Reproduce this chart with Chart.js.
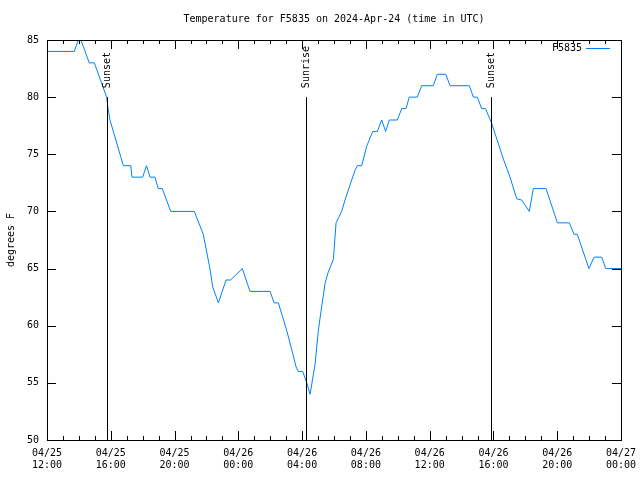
<!DOCTYPE html>
<html>
<head>
<meta charset="utf-8">
<script src="https://cdn.jsdelivr.net/npm/chart.js@4"></script>
<style>
  html, body { margin: 0; padding: 0; background: #fff; }
  #wrap { width: 640px; height: 480px; }
</style>
</head>
<body>
<div id="wrap"><canvas id="chart" width="640" height="480"></canvas></div>
<script>
/* ---------- DATA ---------- */
// hours since 04/25 12:00 UTC
const hours = [0.00, 1.71, 1.96, 2.13, 2.65, 2.97, 3.74, 3.83, 3.95, 4.79, 5.25, 5.33,
    6.00, 6.24, 6.46, 6.77, 6.98, 7.23, 7.76, 9.24, 9.80, 10.22, 10.39, 10.75,
    11.23, 11.52, 12.25, 12.73, 13.99, 14.24, 14.51, 15.03, 15.35, 15.62, 15.76, 16.04,
    16.29, 16.50, 16.81, 17.02, 17.23, 17.44, 17.64, 17.96, 18.13, 18.48, 18.69, 19.00,
    19.32, 19.46, 19.74, 20.05, 20.43, 20.72, 20.99, 21.24, 21.47, 21.97, 22.25, 22.52,
    22.72, 23.22, 23.50, 24.23, 24.48, 25.01, 25.28, 26.49, 26.74, 26.99, 27.26, 27.50,
    27.89, 28.62, 29.04, 29.46, 29.77, 30.25, 30.50, 31.30, 32.01, 32.76, 33.05, 33.26,
    33.99, 34.31, 34.79, 35.04, 36.00];
const temps = [84, 84, 85, 85, 83, 83, 80, 79, 78, 74, 74, 73,
    73, 74, 73, 73, 72, 72, 70, 70, 68, 65, 63.4, 62,
    64, 64, 65, 63, 63, 62, 62, 59.6, 57.9, 56.4, 56, 56,
    55, 54, 56.6, 59.6, 61.7, 63.7, 64.7, 65.8, 69, 70, 71, 72.3,
    73.6, 74, 74, 75.7, 77, 77, 78, 77, 78, 78, 79, 79,
    80, 80, 81, 81, 82, 82, 81, 81, 80, 80, 79, 79,
    77.7, 74.6, 73, 71.1, 71, 70, 72, 72, 69, 69, 68, 68,
    65, 66, 66, 65, 65];

const eventHours = [3.76, 16.24, 27.85];
const eventNames = ["Sunset", "Sunrise", "Sunset"];

const xDates = ["04/25", "04/25", "04/25", "04/26", "04/26", "04/26", "04/26", "04/26", "04/26", "04/27"];
const xTimes = ["12:00", "16:00", "20:00", "00:00", "04:00", "08:00", "12:00", "16:00", "20:00", "00:00"];

const seriesName = "F5835";
const chartTitle = "Temperature for F5835 on 2024-Apr-24 (time in UTC)";
const yTitle = "degrees F";

const FONT = "10px 'DejaVu Sans Mono', monospace";
const LINE = "#0080ff";

/* ---------- DECORATIONS ---------- */
const gnuplotLook = {
    id: "gnuplotLook",
    afterDatasetsDraw(c) {
        const ctx = c.ctx, a = c.chartArea, xs = c.scales.x, ys = c.scales.y;
        ctx.save();
        ctx.strokeStyle = "#000";
        ctx.lineWidth = 1;

        // border
        ctx.strokeRect(Math.round(a.left) + 0.5, Math.round(a.top) + 0.5,
            Math.round(a.right - a.left), Math.round(a.bottom - a.top));

        // x ticks (major every 4h, minor every 1h), inward, mirrored
        ctx.beginPath();
        for (let h = 0; h <= 36; h++) {
            const px = Math.round(xs.getPixelForValue(h)) + 0.5;
            const len = h % 4 === 0 ? 9 : 4;
            ctx.moveTo(px, a.bottom); ctx.lineTo(px, a.bottom - len);
            ctx.moveTo(px, a.top); ctx.lineTo(px, a.top + len);
        }
        for (let v = 50; v <= 85; v += 5) {
            const py = Math.round(ys.getPixelForValue(v)) + 0.5;
            ctx.moveTo(a.left, py); ctx.lineTo(a.left + 9, py);
            ctx.moveTo(a.right, py); ctx.lineTo(a.right - 9, py);
        }
        ctx.stroke();

        // sunrise / sunset markers
        ctx.font = FONT;
        ctx.fillStyle = "#000";
        eventHours.forEach((h, i) => {
            const px = Math.round(xs.getPixelForValue(h)) + 0.5;
            const top = ys.getPixelForValue(80);
            ctx.beginPath();
            ctx.moveTo(px, top);
            ctx.lineTo(px, a.bottom);
            ctx.stroke();
            ctx.save();
            ctx.translate(px, top - 9);
            ctx.rotate(-Math.PI / 2);
            ctx.textAlign = "left";
            ctx.textBaseline = "middle";
            ctx.fillText(eventNames[i], 0, 0);
            ctx.restore();
        });

        // legend
        ctx.textAlign = "right";
        ctx.textBaseline = "middle";
        ctx.fillText(seriesName, a.right - 39, a.top + 8);
        ctx.strokeStyle = LINE;
        ctx.beginPath();
        ctx.moveTo(a.right - 35, a.top + 8.5);
        ctx.lineTo(a.right - 11, a.top + 8.5);
        ctx.stroke();

        // title
        ctx.fillStyle = "#000";
        ctx.textAlign = "center";
        ctx.fillText(chartTitle, (a.left + a.right) / 2, 19);

        // y axis title
        ctx.save();
        ctx.translate(11, (a.top + a.bottom) / 2);
        ctx.rotate(-Math.PI / 2);
        ctx.fillText(yTitle, 0, 0);
        ctx.restore();

        ctx.restore();
    }
};

/* ---------- CHART ---------- */
const points = hours.map((h, i) => ({ x: h, y: temps[i] }));

new Chart(document.getElementById("chart"), {
    type: "line",
    data: {
        datasets: [{
            label: seriesName,
            data: points,
            borderColor: LINE,
            borderWidth: 1,
            pointRadius: 0,
            tension: 0,
            fill: false
        }]
    },
    options: {
        responsive: false,
        animation: false,
        layout: { padding: { top: 40, right: 19, left: 0, bottom: 0 } },
        plugins: { legend: { display: false }, tooltip: { enabled: false } },
        scales: {
            x: {
                type: "linear",
                min: 0, max: 36,
                grid: { display: false, drawTicks: false },
                border: { display: false },
                afterFit: s => { s.height = 40; s.paddingRight = 0; },
                ticks: {
                    stepSize: 4,
                    autoSkip: false,
                    maxRotation: 0,
                    padding: 7,
                    color: "#000",
                    font: { family: "'DejaVu Sans Mono', monospace", size: 10 },
                    callback: v => [xDates[v / 4], xTimes[v / 4]]
                }
            },
            y: {
                min: 50, max: 85,
                grid: { display: false, drawTicks: false },
                border: { display: false },
                afterFit: s => { s.width = 47; },
                ticks: {
                    stepSize: 5,
                    padding: 8,
                    color: "#000",
                    font: { family: "'DejaVu Sans Mono', monospace", size: 10 }
                }
            }
        }
    },
    plugins: [gnuplotLook]
});
</script>
</body>
</html>
